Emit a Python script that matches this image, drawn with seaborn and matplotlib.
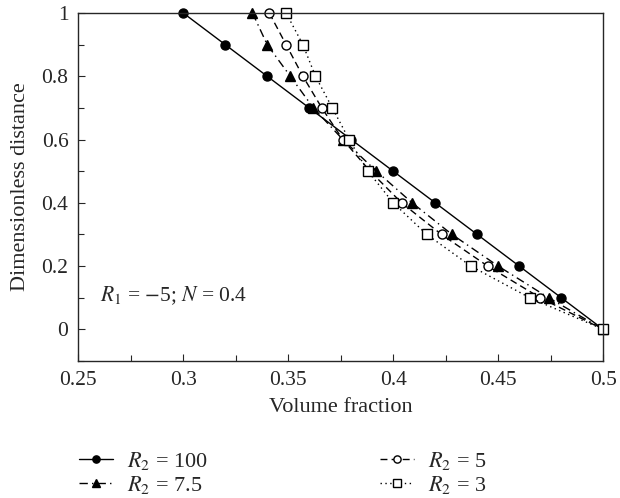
import numpy as np
import pandas as pd
import matplotlib
matplotlib.use("Agg")
import matplotlib.pyplot as plt
from matplotlib.ticker import MultipleLocator
import seaborn as sns

# dimensionless distance (shared by all series)
distance = [1.0, 0.9, 0.8, 0.7, 0.6, 0.5, 0.4, 0.3, 0.2, 0.1, 0.0]

# volume fraction for each R2
vf_r100 = [0.300, 0.320, 0.340, 0.360, 0.380, 0.400, 0.420, 0.440, 0.460, 0.480, 0.500]
vf_r75 = [0.333, 0.340, 0.351, 0.362, 0.376, 0.392, 0.409, 0.428, 0.450, 0.474, 0.500]
vf_r5 = [0.341, 0.349, 0.357, 0.366, 0.376, 0.389, 0.404, 0.423, 0.445, 0.470, 0.500]
vf_r3 = [0.349, 0.357, 0.363, 0.371, 0.379, 0.388, 0.400, 0.416, 0.437, 0.465, 0.500]

labels = [r"$R_2$ = 100", r"$R_2$ = 7.5", r"$R_2$ = 5", r"$R_2$ = 3"]
series = [vf_r100, vf_r75, vf_r5, vf_r3]

sns.set_style("ticks")
plt.rcParams["font.family"] = ["Liberation Serif", "DejaVu Serif"]
plt.rcParams["mathtext.fontset"] = "stix"

fig = plt.figure(figsize=(6.2, 4.98), dpi=100)
ax = fig.add_axes([0.126, 0.275, 0.847, 0.699])

styles = [
    dict(marker="o", linestyle="-", mfc="black"),
    dict(marker="^", linestyle=(0, (6, 3, 1, 3)), mfc="black"),
    dict(marker="o", linestyle=(0, (5, 3)), mfc="white"),
    dict(marker="s", linestyle=(0, (1, 2.5)), mfc="white"),
]

for vf, lab, st in zip(series, labels, styles):
    sns.lineplot(x=vf, y=distance, ax=ax, sort=False, estimator=None,
                 color="black", linewidth=1.0, marker=st["marker"],
                 linestyle=st["linestyle"], markersize=6.5,
                 markerfacecolor=st["mfc"], markeredgecolor="black",
                 markeredgewidth=1.0, label=lab, legend=False, clip_on=False)

ax.set_xlim(0.25, 0.5)
ax.set_ylim(-0.1, 1.0)
ax.xaxis.set_minor_locator(MultipleLocator(0.025))
ax.yaxis.set_minor_locator(MultipleLocator(0.1))
ax.set_xticks([0.25, 0.3, 0.35, 0.4, 0.45, 0.5])
ax.set_xticklabels(["0.25", "0.3", "0.35", "0.4", "0.45", "0.5"])
ax.set_yticks([0, 0.2, 0.4, 0.6, 0.8, 1.0])
ax.set_yticklabels(["0", "0.2", "0.4", "0.6", "0.8", "1"])
ax.tick_params(which="both", direction="in", labelsize=15.5, width=0.8)
ax.tick_params(which="major", length=5, pad=7)
ax.tick_params(which="minor", length=4)
for sp in ax.spines.values():
    sp.set_linewidth(1.0)

ax.set_xlabel("Volume fraction", fontsize=16, labelpad=6)
ax.set_ylabel("Dimensionless distance", fontsize=16, labelpad=8)
ax.text(0.2605, 0.105, r"$R_1$ = $-$5; $N$ = 0.4", fontsize=15.5, va="center")

handles, labs = ax.get_legend_handles_labels()
fig.legend(handles, labs, loc="lower left", bbox_to_anchor=(0.095, -0.036),
           ncol=2, frameon=False, fontsize=16, handlelength=1.55,
           markerscale=0.8, columnspacing=7.75, labelspacing=0.1,
           handletextpad=0.6)

fig.savefig("out.png", dpi=100)
